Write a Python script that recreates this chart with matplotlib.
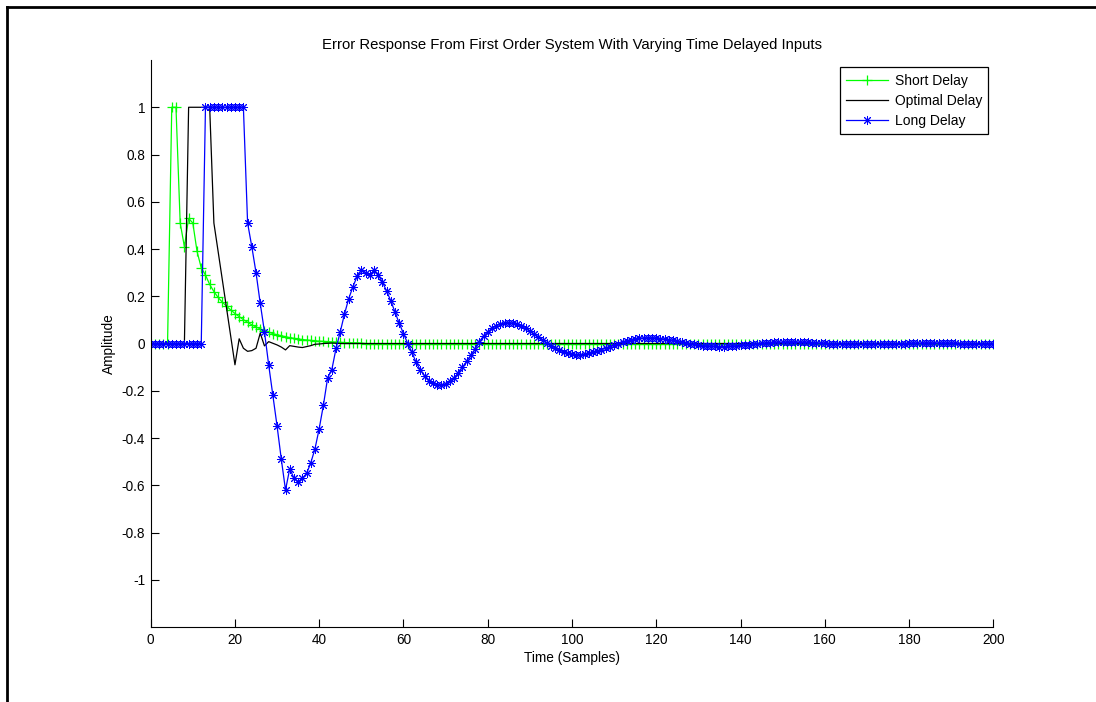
import numpy as np
import matplotlib.pyplot as plt
from matplotlib.lines import Line2D

plt.rcParams['font.family'] = ['Liberation Sans', 'DejaVu Sans']

# sample index 0..200
samples = np.arange(0, 201)

# Short Delay (green, +)
short_delay = [0.0] * 5 + [
    1.0, 1.0, 0.51, 0.41, 0.53, 0.51, 0.39, 0.32, 0.29, 0.25,
    0.22, 0.195, 0.175, 0.158, 0.142, 0.127, 0.114, 0.101, 0.09, 0.079,
    0.07, 0.062, 0.055, 0.048, 0.042, 0.037, 0.033, 0.029, 0.025, 0.022,
    0.019, 0.017, 0.015, 0.013, 0.011, 0.010, 0.009, 0.008, 0.007, 0.006,
    0.005, 0.004, 0.004, 0.003, 0.003, 0.002,
] + [0.0] * 150

# Optimal Delay (black line)
optimal_delay = [0.0] * 9 + [1.0] * 6 + [
    0.51, 0.39, 0.27, 0.15, 0.03, -0.09, 0.02, -0.02, -0.033, -0.03,
    -0.02, 0.044, -0.01, 0.008, 0.001, -0.006, -0.015, -0.027, -0.009, -0.012,
    -0.015, -0.017, -0.013, -0.009, -0.003, -0.002, 0.0, 0.001, 0.002, 0.001,
    0.0,
] + [0.0] * 155

# Long Delay (blue, *)
long_delay = [0.0] * 13 + [1.0] * 10 + [
    0.51, 0.41, 0.30, 0.17, 0.05, -0.09, -0.22, -0.35, -0.49, -0.62,
    -0.53, -0.57, -0.585, -0.57, -0.55, -0.505, -0.445, -0.36, -0.26, -0.145,
    -0.11, -0.02, 0.05, 0.125, 0.19, 0.24, 0.285, 0.31, 0.30, 0.29,
    0.31, 0.29, 0.26, 0.222, 0.18, 0.133, 0.085, 0.042, 0.0, -0.037,
    -0.08, -0.112, -0.137, -0.157, -0.168, -0.174, -0.176, -0.171, -0.16, -0.145,
    -0.125, -0.1, -0.075, -0.05, -0.024, 0.008, 0.032, 0.05, 0.064, 0.076,
    0.083, 0.087, 0.088, 0.086, 0.081, 0.073, 0.064, 0.053, 0.041, 0.028,
    0.015, 0.002, -0.009, -0.019, -0.028, -0.036, -0.041, -0.045, -0.047, -0.047,
    -0.045, -0.042, -0.037, -0.032, -0.026, -0.02, -0.013, -0.006, 0.0, 0.006,
    0.011, 0.016, 0.019, 0.022, 0.024, 0.024, 0.024, 0.023, 0.021, 0.019,
    0.016, 0.013, 0.01, 0.006, 0.003, -0.001, -0.004, -0.006, -0.009, -0.01,
    -0.012, -0.012, -0.013, -0.013, -0.012, -0.011, -0.01, -0.008, -0.006, -0.005,
    -0.003, -0.001, 0.001, 0.002, 0.004, 0.005, 0.006, 0.006, 0.007, 0.007,
    0.007, 0.006, 0.006, 0.005, 0.004, 0.003, 0.002, 0.001, 0.0, -0.001,
    -0.001, -0.002, -0.003, -0.003, -0.003, -0.004, -0.004, -0.003, -0.003, -0.003,
    -0.003, -0.002, -0.002, -0.001, -0.001, 0.0, 0.0, 0.001, 0.001, 0.001,
    0.002, 0.002, 0.002, 0.002, 0.002, 0.001, 0.001, 0.001, 0.001, 0.0,
    0.0, 0.0, 0.0, -0.001, -0.001, -0.001, -0.001, -0.001,
]

y_ticks = [-1, -0.8, -0.6, -0.4, -0.2, 0, 0.2, 0.4, 0.6, 0.8, 1]
y_tick_labels = ['-1', '-0.8', '-0.6', '-0.4', '-0.2', '0', '0.2', '0.4', '0.6', '0.8', '1']
x_ticks = [0, 20, 40, 60, 80, 100, 120, 140, 160, 180, 200]

fig = plt.figure(figsize=(10.96, 7.02), dpi=100)
ax = fig.add_axes([0.1375, 0.1068, 0.7688, 0.8077])

ax.plot(samples, short_delay, color=(0, 1, 0), lw=0.9, marker='+',
        markersize=7, markeredgewidth=0.9, label='Short Delay')
ax.plot(samples, optimal_delay, color='black', lw=0.9, label='Optimal Delay')
# MATLAB-style asterisk marker (8 spokes)
ax.plot(samples, long_delay, color=(0, 0, 1), lw=0.9, marker=(8, 2, 0),
        markersize=6.5, markeredgewidth=0.7, label='Long Delay')

ax.set_xlim(0, 200)
ax.set_ylim(-1.2, 1.2)
ax.set_xticks(x_ticks)
ax.set_yticks(y_ticks)
ax.set_yticklabels(y_tick_labels)
ax.tick_params(direction='in', length=5.5, width=0.8, labelsize=9.8, pad=4,
               top=False, right=False)
ax.spines['top'].set_visible(False)
ax.spines['right'].set_visible(False)
for s in ['left', 'bottom']:
    ax.spines[s].set_linewidth(0.8)

ax.set_title('Error Response From First Order System With Varying Time Delayed Inputs',
             fontsize=10.7, pad=8)
ax.set_xlabel('Time (Samples)', fontsize=9.8, labelpad=3)
ax.set_ylabel('Amplitude', fontsize=9.8, labelpad=4)

leg = ax.legend(loc='upper right', bbox_to_anchor=(0.994, 0.987), borderaxespad=0,
                fontsize=10, handlelength=3.0, handletextpad=0.5, labelspacing=0.45,
                borderpad=0.45, fancybox=False, framealpha=1, edgecolor='black')
leg.get_frame().set_linewidth(0.9)

# outer frame (top and left edges)
fig.add_artist(Line2D([7 / 1096, 1.0], [1 - 6.5 / 702, 1 - 6.5 / 702], color='black', lw=2))
fig.add_artist(Line2D([7 / 1096, 7 / 1096], [0.0, 1 - 6.5 / 702], color='black', lw=2))

plt.savefig('out.png', dpi=100)
plt.close()
